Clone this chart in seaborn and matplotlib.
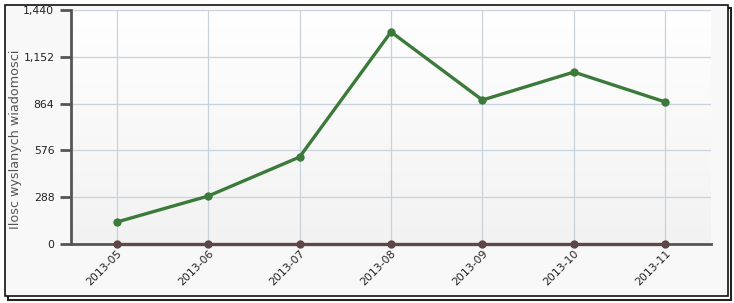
import matplotlib
matplotlib.use("Agg")
import matplotlib.pyplot as plt
import seaborn as sns
import numpy as np
import pandas as pd
from matplotlib.patches import Rectangle
from matplotlib.ticker import FuncFormatter

months = ["2013-05", "2013-06", "2013-07", "2013-08", "2013-09", "2013-10", "2013-11"]
sent = [135, 295, 535, 1305, 886, 1058, 874]
other = [0, 0, 0, 0, 0, 0, 0]
yticks = [0, 288, 576, 864, 1152, 1440]
ylabel = "Ilosc wyslanych wiadomosci"

df = pd.DataFrame({
    "month": months * 2,
    "value": sent + other,
    "series": ["sent"] * len(months) + ["other"] * len(months),
})

sns.set_style("white")
plt.rcParams['font.family'] = ['DejaVu Sans']

fig = plt.figure(figsize=(7.34, 3.03), dpi=100)
fig.patch.set_facecolor("white")
W, H = 734, 303

# outer frame with shadow
fig.add_artist(Rectangle((8 / W, 1 - 300 / H), 723 / W, 292 / H, transform=fig.transFigure,
                         facecolor="none", edgecolor="#222222", lw=1.5, zorder=0))
fig.add_artist(Rectangle((5 / W, 1 - 296 / H), 723 / W, 291 / H, transform=fig.transFigure,
                         facecolor="#f8f8f8", edgecolor="#111111", lw=1.2, zorder=0))

ax = fig.add_axes([71 / W, 1 - 244 / H, 640 / W, 234 / H])
ax.set_facecolor("none")

# gradient background of plot area (white at top, light gray at bottom)
grad = np.linspace(0.0, 1.0, 256).reshape(-1, 1)
ax.imshow(grad, extent=(-0.5, 6.5, 0, 1440), aspect="auto", origin="lower",
          cmap=matplotlib.colors.LinearSegmentedColormap.from_list("g", ["#f2f2f2", "#ffffff"]),
          zorder=0)

sns.lineplot(data=df, x="month", y="value", hue="series",
             palette={"sent": "#3b7a3b", "other": "#5e4646"},
             marker="o", markersize=6, markeredgewidth=0, linewidth=2.4,
             legend=False, ax=ax, zorder=3, clip_on=False)

ax.set_xlim(-0.5, 6.5)
ax.set_ylim(0, 1440)
ax.set_yticks(yticks)
ax.yaxis.set_major_formatter(FuncFormatter(lambda v, p: f"{int(v):,}"))
ax.set_xticks(range(len(months)))
ax.set_xticklabels(months, rotation=45, ha="right", rotation_mode="anchor")

ax.grid(True, color="#c9d1dc", lw=0.9, zorder=1)
ax.set_axisbelow(True)

for s in ["top", "right"]:
    ax.spines[s].set_visible(False)
for s in ["left", "bottom"]:
    ax.spines[s].set_color("#555555")
    ax.spines[s].set_linewidth(2)

ax.tick_params(axis="y", length=8, width=2, color="#555555", labelsize=7.8,
               labelcolor="#222222", pad=4, direction="out", left=True)
ax.tick_params(axis="x", length=0, labelsize=7.8, labelcolor="#222222", pad=3)

ax.set_xlabel("")
ax.set_ylabel(ylabel, fontsize=9.2, color="#555555")
ax.yaxis.set_label_coords(-0.0766, 0.449)

fig.savefig("out.png", dpi=100, facecolor=fig.get_facecolor())
